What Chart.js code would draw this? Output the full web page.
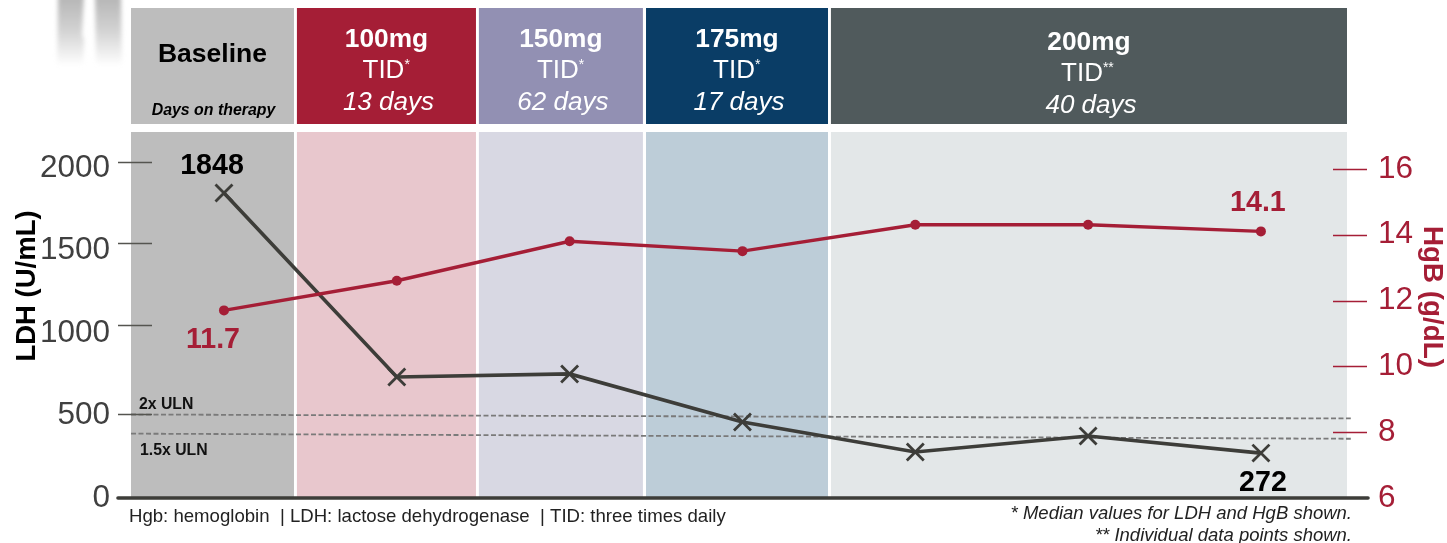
<!DOCTYPE html>
<html>
<head>
<meta charset="utf-8">
<title>LDH and HgB</title>
<script src="https://cdn.jsdelivr.net/npm/chart.js@4"></script>
<style>
  html, body { margin: 0; padding: 0; background: #fff; }
  #wrap { width: 1447px; height: 543px; }
</style>
</head>
<body>
<div id="wrap"><canvas id="myChart" width="1447" height="543"></canvas></div>
<script>
// data
const visits = [0, 1, 2, 3, 4, 5, 6];
const ldhValues = [1848, 733, 752, 461, 279, 376, 272];
const hgbValues = [11.7, 12.6, 13.8, 13.5, 14.3, 14.3, 14.1];

const ldhTicks = [0, 500, 1000, 1500, 2000];
const hgbTicks = [6, 8, 10, 12, 14, 16];
// the dashes beside the left labels do not sit quite level with them in the original
const ldhDashes = [509, 1048, 1547, 2036];

const ulnX = [-0.538, 6.52];
const uln2x = [506, 482];
const uln15x = [390, 359];

// phases, in visit units on the x axis
const phaseStart = [-0.538, 0.422, 1.475, 2.442, 3.512];
const phaseEnd = [0.405, 1.458, 2.424, 3.495, 6.498];
const phaseDose = ['Baseline', '100mg', '150mg', '175mg', '200mg'];
const phaseFreq = ['', 'TID', 'TID', 'TID', 'TID'];
const phaseMark = ['', '*', '*', '*', '**'];
const phaseDays = ['Days on therapy', '13 days', '62 days', '17 days', '40 days'];
const headerColors = ['#bdbdbd', '#a51e36', '#9290b3', '#0a3d66', '#505a5c'];
const bandColors = ['#bdbdbd', '#e8c7cd', '#d8d8e3', '#bdcdd8', '#e3e7e8'];

const crimson = '#a51e36';
const dark = '#3d3d39';
const FONT = '"Liberation Sans", Arial, sans-serif';

function text(ctx, str, x, y, font, color, align) {
  ctx.font = font;
  ctx.fillStyle = color;
  ctx.textAlign = align || 'center';
  ctx.textBaseline = 'alphabetic';
  ctx.fillText(str, x, y);
}

function rotated(ctx, str, x, y, angle, font, color) {
  ctx.save();
  ctx.translate(x, y);
  ctx.rotate(angle);
  text(ctx, str, 0, 0, font, color);
  ctx.restore();
}

function figure(ctx) {
  // faded figure top left
  ctx.save();
  const fade = ctx.createLinearGradient(0, 0, 0, 66);
  fade.addColorStop(0, '#b8b8b8');
  fade.addColorStop(0.45, '#d2d2d2');
  fade.addColorStop(1, '#ffffff');
  ctx.fillStyle = fade;
  ctx.filter = 'blur(2px)';
  ctx.beginPath();
  ctx.moveTo(58, -5); ctx.lineTo(84, -5); ctx.lineTo(82, 34); ctx.lineTo(84, 40);
  ctx.lineTo(83, 70); ctx.lineTo(57, 70); ctx.closePath();
  ctx.moveTo(95, -5); ctx.lineTo(121, -5); ctx.lineTo(122, 70); ctx.lineTo(96, 70);
  ctx.closePath();
  ctx.fill();
  ctx.restore();
}

const backdrop = {
  id: 'backdrop',
  beforeDraw(chart) {
    const ctx = chart.ctx, x = chart.scales.x, area = chart.chartArea;
    figure(ctx);
    ctx.save();
    phaseStart.forEach((start, i) => {
      const left = x.getPixelForValue(start);
      const right = x.getPixelForValue(phaseEnd[i]);
      ctx.fillStyle = headerColors[i];
      ctx.fillRect(left, 8, right - left, 116);
      ctx.fillStyle = bandColors[i];
      ctx.fillRect(left, area.top, right - left, area.bottom - area.top);
      const mid = (left + right) / 2;
      if (i === 0) {
        text(ctx, phaseDose[i], mid, 62, 'bold 26.5px ' + FONT, '#000');
        text(ctx, phaseDays[i], mid + 1, 115, 'italic bold 15.9px ' + FONT, '#000');
      } else {
        // last box sits a little lower and its TID further left
        const drop = i === 4 ? 2.5 : 0;
        const tidX = mid - (i === 4 ? 7 : 3);
        text(ctx, phaseDose[i], mid, 47 + drop, 'bold 26.3px ' + FONT, '#fff');
        text(ctx, phaseFreq[i], tidX, 78 + drop, '26px ' + FONT, '#fff');
        const w = ctx.measureText(phaseFreq[i]).width;
        text(ctx, phaseMark[i], tidX + w / 2, 69 + drop, '14px ' + FONT, '#fff', 'left');
        text(ctx, phaseDays[i], mid + 2, 110 + drop, 'italic 26px ' + FONT, '#fff');
      }
    });
    ctx.restore();
  },
};

const annotate = {
  id: 'annotate',
  afterDatasetsDraw(chart) {
    const ctx = chart.ctx, s = chart.scales, area = chart.chartArea;
    ctx.save();
    // tick dashes, they reach into the plot
    ctx.lineWidth = 1.3;
    ctx.strokeStyle = '#555550';
    ldhDashes.forEach(v => {
      const y = Math.round(s.yLdh.getPixelForValue(v)) + 0.5;
      ctx.beginPath(); ctx.moveTo(118, y); ctx.lineTo(152, y); ctx.stroke();
    });
    ctx.strokeStyle = crimson;
    hgbTicks.slice(1).forEach(v => {
      const y = Math.round(s.yHgb.getPixelForValue(v)) + 0.5;
      ctx.beginPath(); ctx.moveTo(1333, y); ctx.lineTo(1367, y); ctx.stroke();
    });
    // baseline
    ctx.strokeStyle = dark;
    ctx.lineWidth = 3.6;
    ctx.lineCap = 'round';
    ctx.beginPath(); ctx.moveTo(118, area.bottom); ctx.lineTo(1368, area.bottom); ctx.stroke();

    // first and last value labels
    const last = visits.length - 1;
    text(ctx, String(ldhValues[0]), s.x.getPixelForValue(visits[0]) - 12, 174, 'bold 28.6px ' + FONT, '#000');
    text(ctx, String(ldhValues[last]), s.x.getPixelForValue(visits[last]) + 2, 491, 'bold 28.6px ' + FONT, '#000');
    text(ctx, hgbValues[0].toFixed(1), s.x.getPixelForValue(visits[0]) - 11, 348, 'bold 28.6px ' + FONT, crimson);
    text(ctx, hgbValues[last].toFixed(1), s.x.getPixelForValue(visits[last]) - 3, 211, 'bold 28.6px ' + FONT, crimson);

    text(ctx, '2x ULN', 139, 409, 'bold 15.8px ' + FONT, '#111', 'left');
    text(ctx, '1.5x ULN', 140, 455, 'bold 15.8px ' + FONT, '#111', 'left');

    rotated(ctx, 'LDH (U/mL)', 35, 286, -Math.PI / 2, 'bold 27.5px ' + FONT, '#000');
    rotated(ctx, 'HgB (g/dL)', 1424, 297, Math.PI / 2, 'bold 27.8px ' + FONT, crimson);

    text(ctx, 'Hgb: hemoglobin  | LDH: lactose dehydrogenase  | TID: three times daily', 129, 522, '18.6px ' + FONT, '#222', 'left');
    text(ctx, '* Median values for LDH and HgB shown.', 1352, 519, 'italic 18.5px ' + FONT, '#222', 'right');
    text(ctx, '** Individual data points shown.', 1352, 541, 'italic 18.5px ' + FONT, '#222', 'right');
    ctx.restore();
  },
};

function toPoints(xs, ys) {
  return ys.map((v, i) => ({ x: xs[i], y: v }));
}

function ulnLine(label, values) {
  return {
    label: label,
    data: toPoints(ulnX, values),
    yAxisID: 'yLdh',
    borderColor: '#7a7a7a',
    borderWidth: 1.8,
    borderDash: [5, 2.5],
    pointRadius: 0,
    clip: false,
    order: 3,
  };
}

// pin the axis width and stop its labels pushing the plot area around
function fixWidth(width) {
  return function(scale) {
    scale.width = width;
    scale.paddingTop = 0;
    scale.paddingBottom = 0;
  };
}

new Chart(document.getElementById('myChart'), {
  type: 'line',
  data: {
    datasets: [
      ulnLine('2x ULN', uln2x),
      ulnLine('1.5x ULN', uln15x),
      {
        label: 'LDH',
        data: toPoints(visits, ldhValues),
        yAxisID: 'yLdh',
        borderColor: dark,
        borderWidth: 3.6,
        pointStyle: 'crossRot',
        pointRadius: 12,
        pointBorderColor: dark,
        pointBorderWidth: 2.8,
        order: 2,
      },
      {
        label: 'HgB',
        data: toPoints(visits, hgbValues),
        yAxisID: 'yHgb',
        borderColor: crimson,
        backgroundColor: crimson,
        borderWidth: 3.4,
        pointRadius: 5,
        pointBackgroundColor: crimson,
        pointBorderWidth: 0,
        order: 1,
      },
    ],
  },
  options: {
    responsive: false,
    animation: false,
    events: [],
    layout: { padding: { top: 132, bottom: 45 } },
    plugins: { legend: { display: false }, tooltip: { enabled: false } },
    scales: {
      x: {
        type: 'linear',
        min: -0.538,
        max: 6.498,
        display: false,
      },
      yLdh: {
        position: 'left',
        min: 0,
        max: 2218,
        afterFit: fixWidth(131),
        afterBuildTicks(scale) { scale.ticks = ldhTicks.map(v => ({ value: v })); },
        grid: { display: false, drawTicks: false },
        border: { display: false },
        ticks: {
          padding: 21,
          color: '#404040',
          font: { family: FONT, size: 31.5 },
          autoSkip: false,
          callback: v => String(v),
        },
      },
      yHgb: {
        position: 'right',
        min: 6,
        max: 17.12,
        afterFit: fixWidth(100),
        afterBuildTicks(scale) { scale.ticks = hgbTicks.map(v => ({ value: v })); },
        grid: { display: false, drawTicks: false },
        border: { display: false },
        ticks: {
          padding: 31,
          color: crimson,
          font: { family: FONT, size: 31.5 },
          autoSkip: false,
          callback: v => String(v),
        },
      },
    },
  },
  plugins: [backdrop, annotate],
});
</script>
</body>
</html>
